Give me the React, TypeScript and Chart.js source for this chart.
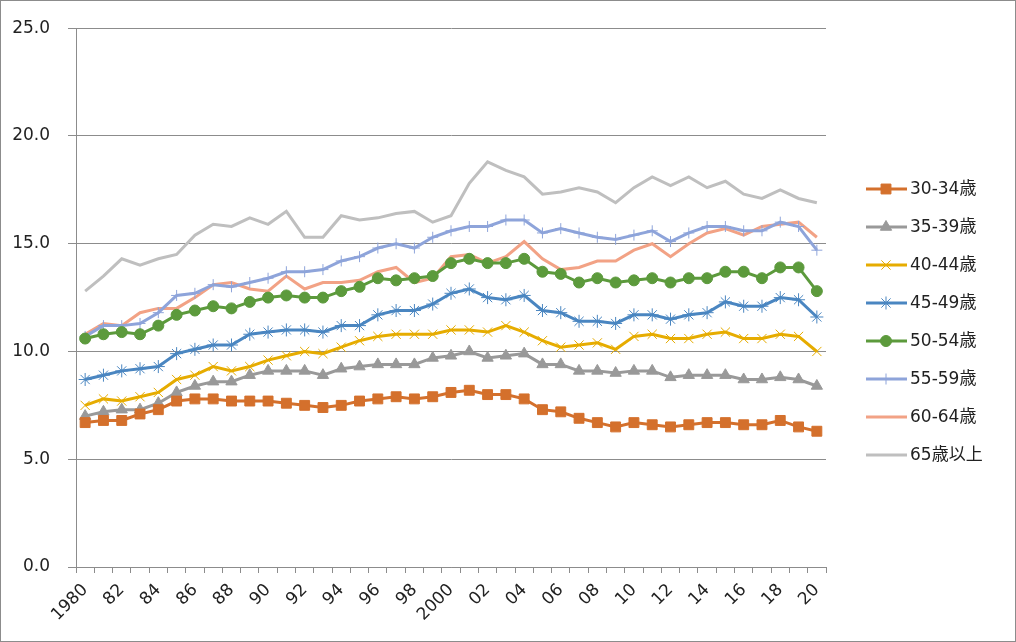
import { useEffect, useRef } from "react";
import { Chart, registerables } from "chart.js";
import { drawPoint } from "chart.js/helpers";

Chart.register(...registerables);

const years = [
  1980, 1981, 1982, 1983, 1984, 1985, 1986, 1987, 1988, 1989, 1990, 1991, 1992, 1993,
  1994, 1995, 1996, 1997, 1998, 1999, 2000, 2001, 2002, 2003, 2004, 2005, 2006, 2007,
  2008, 2009, 2010, 2011, 2012, 2013, 2014, 2015, 2016, 2017, 2018, 2019, 2020,
];

const tickLabels = [
  "1980", "", "82", "", "84", "", "86", "", "88", "", "90", "", "92", "", "94", "", "96", "",
  "98", "", "2000", "", "02", "", "04", "", "06", "", "08", "", "10", "", "12", "", "14", "",
  "16", "", "18", "", "20",
];

const yTicks = [0, 5, 10, 15, 20, 25];

const age30to34 = [
  6.7, 6.8, 6.8, 7.1, 7.3, 7.7, 7.8, 7.8, 7.7, 7.7, 7.7, 7.6, 7.5, 7.4, 7.5, 7.7, 7.8, 7.9, 7.8, 7.9,
  8.1, 8.2, 8.0, 8.0, 7.8, 7.3, 7.2, 6.9, 6.7, 6.5, 6.7, 6.6, 6.5, 6.6, 6.7, 6.7, 6.6, 6.6, 6.8, 6.5,
  6.3,
];
const age35to39 = [
  7.0, 7.2, 7.3, 7.3, 7.6, 8.1, 8.4, 8.6, 8.6, 8.9, 9.1, 9.1, 9.1, 8.9, 9.2, 9.3, 9.4, 9.4, 9.4, 9.7,
  9.8, 10.0, 9.7, 9.8, 9.9, 9.4, 9.4, 9.1, 9.1, 9.0, 9.1, 9.1, 8.8, 8.9, 8.9, 8.9, 8.7, 8.7, 8.8, 8.7,
  8.4,
];
const age40to44 = [
  7.5, 7.8, 7.7, 7.9, 8.1, 8.7, 8.9, 9.3, 9.1, 9.3, 9.6, 9.8, 10.0, 9.9, 10.2, 10.5, 10.7, 10.8, 10.8,
  10.8, 11.0, 11.0, 10.9, 11.2, 10.9, 10.5, 10.2, 10.3, 10.4, 10.1, 10.7, 10.8, 10.6, 10.6, 10.8, 10.9,
  10.6, 10.6, 10.8, 10.7, 10.0,
];
const age45to49 = [
  8.7, 8.9, 9.1, 9.2, 9.3, 9.9, 10.1, 10.3, 10.3, 10.8, 10.9, 11.0, 11.0, 10.9, 11.2, 11.2, 11.7, 11.9,
  11.9, 12.2, 12.7, 12.9, 12.5, 12.4, 12.6, 11.9, 11.8, 11.4, 11.4, 11.3, 11.7, 11.7, 11.5, 11.7, 11.8,
  12.3, 12.1, 12.1, 12.5, 12.4, 11.6,
];
const age50to54 = [
  10.6, 10.8, 10.9, 10.8, 11.2, 11.7, 11.9, 12.1, 12.0, 12.3, 12.5, 12.6, 12.5, 12.5, 12.8, 13.0, 13.4,
  13.3, 13.4, 13.5, 14.1, 14.3, 14.1, 14.1, 14.3, 13.7, 13.6, 13.2, 13.4, 13.2, 13.3, 13.4, 13.2, 13.4,
  13.4, 13.7, 13.7, 13.4, 13.9, 13.9, 12.8,
];
const age55to59 = [
  10.7, 11.2, 11.2, 11.3, 11.8, 12.6, 12.7, 13.1, 13.0, 13.2, 13.4, 13.7, 13.7, 13.8, 14.2, 14.4, 14.8,
  15.0, 14.8, 15.3, 15.6, 15.8, 15.8, 16.1, 16.1, 15.5, 15.7, 15.5, 15.3, 15.2, 15.4, 15.6, 15.1, 15.5,
  15.8, 15.8, 15.6, 15.6, 16.0, 15.8, 14.7,
];
const age60to64 = [
  10.8, 11.3, 11.2, 11.8, 12.0, 12.0, 12.5, 13.1, 13.2, 12.9, 12.8, 13.5, 12.9, 13.2, 13.2, 13.3, 13.7,
  13.9, 13.2, 13.4, 14.4, 14.5, 14.1, 14.4, 15.1, 14.3, 13.8, 13.9, 14.2, 14.2, 14.7, 15.0, 14.4, 15.0,
  15.5, 15.7, 15.4, 15.8, 15.9, 16.0, 15.3,
];
const age65plus = [
  12.8, 13.5, 14.3, 14.0, 14.3, 14.5, 15.4, 15.9, 15.8, 16.2, 15.9, 16.5, 15.3, 15.3, 16.3, 16.1, 16.2,
  16.4, 16.5, 16.0, 16.3, 17.8, 18.8, 18.4, 18.1, 17.3, 17.4, 17.6, 17.4, 16.9, 17.6, 18.1, 17.7, 18.1,
  17.6, 17.9, 17.3, 17.1, 17.5, 17.1, 16.9,
];

const FONT_FAMILY = '"DejaVu Sans", "Noto Sans CJK JP", sans-serif';
const FONT_SIZE = 17;
const TEXT_COLOR = "#222222";
const GRID_COLOR = "#8c8c8c";

// series look: [label, data, colour, point style, radius, marker filled]
const seriesDefs: [string, number[], string, string | false, number, boolean][] = [
  ["30-34歳", age30to34, "#d4702c", "rect", 7, true],
  ["35-39歳", age35to39, "#999999", "triangle", 6.5, true],
  ["40-44歳", age40to44, "#e6ac00", "crossRot", 6.5, false],
  ["45-49歳", age45to49, "#4a86c1", "star", 6.5, false],
  ["50-54歳", age50to54, "#5c9a3c", "circle", 5.5, true],
  ["55-59歳", age55to59, "#8ea4da", "cross", 5.5, false],
  ["60-64歳", age60to64, "#f2a285", false, 0, false],
  ["65歳以上", age65plus, "#bfbfbf", false, 0, false],
];

const frameAndLegend = {
  id: "frameAndLegend",
  beforeDraw(chart: any) {
    const {ctx, width, height} = chart;
    ctx.save();
    ctx.fillStyle = "#ffffff";
    ctx.fillRect(0, 0, width, height);
    ctx.restore();
  },
  afterDraw(chart: any) {
    const {ctx, width, height} = chart;
    ctx.save();
    ctx.strokeStyle = GRID_COLOR;
    ctx.lineWidth = 1;
    ctx.strokeRect(0.5, 0.5, width - 1, height - 1);

    chart.data.datasets.forEach((ds: any, i: number) => {
      const y = 189 + i * 38;
      ctx.strokeStyle = ds.borderColor;
      ctx.lineWidth = 3;
      ctx.beginPath();
      ctx.moveTo(866, y);
      ctx.lineTo(907, y);
      ctx.stroke();
      if (ds.pointStyle && ds.pointRadius > 0) {
        ctx.fillStyle = ds.pointBackgroundColor;
        ctx.strokeStyle = ds.pointBorderColor;
        ctx.lineWidth = ds.pointBorderWidth;
        drawPoint(
          ctx,
          {pointStyle: ds.pointStyle, radius: ds.pointRadius, rotation: 0, borderWidth: ds.pointBorderWidth},
          886,
          y
        );
      }
      ctx.fillStyle = TEXT_COLOR;
      ctx.font = `${FONT_SIZE}px ${FONT_FAMILY}`;
      ctx.textAlign = "left";
      ctx.textBaseline = "middle";
      ctx.fillText(ds.label, 910, y + 1);
    });
    ctx.restore();
  },
};

export default function App() {
  const canvasRef = useRef<HTMLCanvasElement>(null);
  const chartRef = useRef<Chart | null>(null);

  useEffect(() => {
    if (!canvasRef.current) return;
    if (chartRef.current) chartRef.current.destroy();

    const datasets = seriesDefs.map(([label, data, color, style, radius, filled]) => ({
      label,
      data,
      borderColor: color,
      backgroundColor: color,
      borderWidth: 3,
      pointStyle: style,
      pointRadius: radius,
      pointHoverRadius: radius,
      pointBackgroundColor: filled ? color : "rgba(0,0,0,0)",
      pointBorderColor: color,
      pointBorderWidth: 1,
      tension: 0,
      fill: false,
    }));

    chartRef.current = new Chart(canvasRef.current, {
      type: "line",
      data: {labels: years.map(String), datasets: datasets as any},
      plugins: [frameAndLegend],
      options: {
        animation: false,
        responsive: true,
        maintainAspectRatio: false,
        layout: {padding: {top: 24, right: 190, left: 0, bottom: 0}},
        plugins: {
          legend: {display: false},
          tooltip: {enabled: false},
        },
        scales: {
          x: {
            type: "category",
            offset: true,
            grid: {
              display: true,
              drawOnChartArea: false,
              drawTicks: true,
              tickLength: 6,
              color: GRID_COLOR,
              offset: true,
            },
            border: {color: GRID_COLOR},
            ticks: {
              autoSkip: false,
              maxRotation: 45,
              minRotation: 45,
              padding: 7,
              color: TEXT_COLOR,
              font: {family: FONT_FAMILY, size: FONT_SIZE},
              callback: (_v: any, i: number) => tickLabels[i],
            },
            afterFit: (scale: any) => {
              scale.height = 75;
            },
          },
          y: {
            min: yTicks[0],
            max: yTicks[yTicks.length - 1],
            grid: {color: GRID_COLOR, tickLength: 8},
            border: {color: GRID_COLOR},
            ticks: {
              stepSize: yTicks[1] - yTicks[0],
              padding: 18,
              color: TEXT_COLOR,
              font: {family: FONT_FAMILY, size: FONT_SIZE},
              callback: (v: any) => Number(v).toFixed(1),
            },
            afterFit: (scale: any) => {
              scale.width = 76;
            },
          },
        },
      },
    });

    return () => {
      if (chartRef.current) {
        chartRef.current.destroy();
        chartRef.current = null;
      }
    };
  }, []);

  return (
    <div style={{position: "fixed", left: 0, top: 0, width: 1016, height: 642, background: "#fff"}}>
      <canvas ref={canvasRef} />
    </div>
  );
}
